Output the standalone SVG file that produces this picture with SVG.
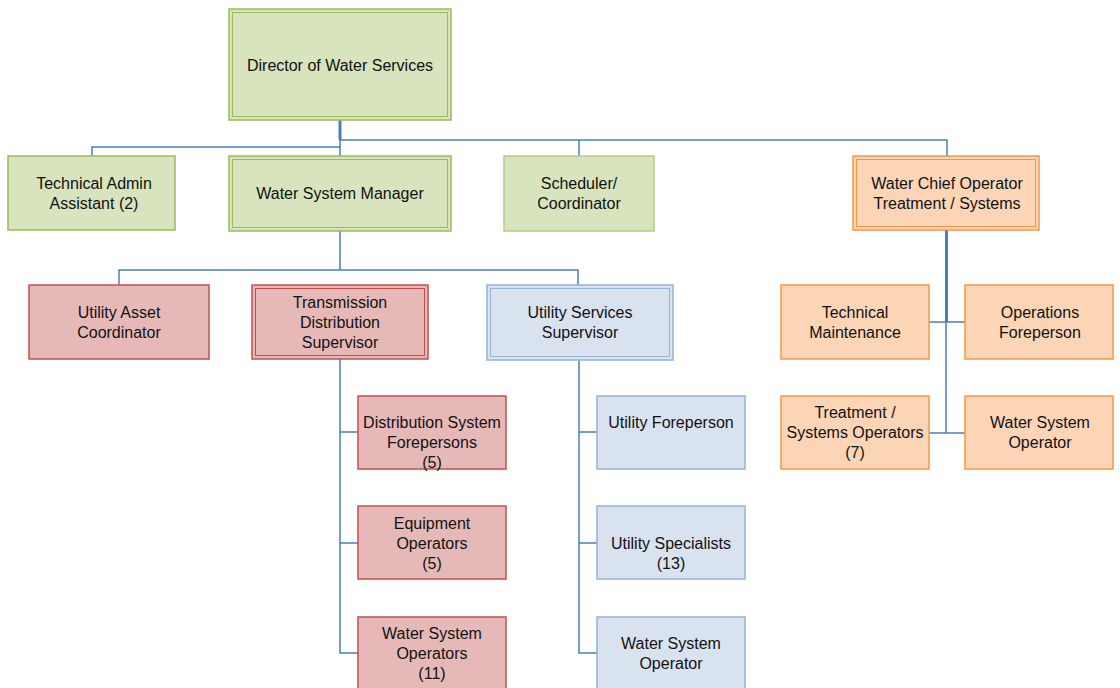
<svg xmlns="http://www.w3.org/2000/svg" width="1120" height="688" viewBox="0 0 1120 688">
  <style>
    .g { fill: #d7e4bd; stroke: #9bbb59; stroke-width: 1.5; }
    .r { fill: #e6b9b8; stroke: #c0504d; stroke-width: 1.5; }
    .b { fill: #d9e2ef; stroke: #95b3d7; stroke-width: 1.5; }
    .o { fill: #fbd5b5; stroke: #f79646; stroke-width: 1.5; }
    .in { fill: none; stroke-width: 1; }
    .gi { stroke: #9bbb59; }
    .ri { stroke: #c0504d; }
    .bi { stroke: #95b3d7; }
    .oi { stroke: #f79646; }
    text { font-family: "Liberation Sans", Arial, sans-serif; font-size: 16px; fill: #111; text-anchor: middle; }
    .conn { fill: none; stroke: #4a7ebb; stroke-width: 1.5; }
    .thick { fill: none; stroke: #4a7ebb; stroke-width: 3; }
  </style>

  <rect width="1120" height="688" fill="#ffffff"/>

  <!-- connectors -->
  <g id="connectors">
    <path class="thick" d="M340 120 V140"/>
    <path class="conn" d="M340 140 H947 V156 M579 140 V156 M340 140 V156 M340 147 H92 V156"/>
    <path class="conn" d="M340 231 V270 M119 285 V270 H578 V285"/>
    <path class="conn" d="M340 359 V653 H358 M340 432 H358 M340 543 H358"/>
    <path class="conn" d="M579 360 V653 H597 M579 432 H597 M579 543 H597"/>
    <path class="thick" d="M946.5 230 V322"/>
    <path class="conn" d="M946 322 V433 M929 322 H965 M929 433 H965"/>
  </g>

  <!-- top level -->
  <g id="director">
    <rect class="g" x="229" y="9" width="222" height="111"/>
    <rect class="in gi" x="232.5" y="12.5" width="215" height="104"/>
    <text x="340" y="71">Director of Water Services</text>
  </g>

  <g id="tech-admin">
    <rect class="g" x="8" y="156" width="167" height="74"/>
    <text x="94" y="189">Technical Admin</text>
    <text x="94" y="209">Assistant (2)</text>
  </g>

  <g id="water-system-manager">
    <rect class="g" x="229" y="156" width="222" height="75"/>
    <rect class="in gi" x="232.5" y="159.5" width="215" height="68"/>
    <text x="340" y="199">Water System Manager</text>
  </g>

  <g id="scheduler">
    <rect class="g" x="504" y="156" width="150" height="75" stroke-width="2.5" style="stroke:#b5cc85"/>
    <text x="579" y="189">Scheduler/</text>
    <text x="579" y="209">Coordinator</text>
  </g>

  <g id="chief-operator">
    <rect class="o" x="853" y="156" width="186" height="74"/>
    <rect class="in oi" x="856.5" y="159.5" width="179" height="67"/>
    <text x="947" y="189">Water Chief Operator</text>
    <text x="947" y="209">Treatment / Systems</text>
  </g>

  <!-- second level -->
  <g id="utility-asset">
    <rect class="r" x="29" y="285" width="180" height="74"/>
    <text x="119" y="318">Utility Asset</text>
    <text x="119" y="338">Coordinator</text>
  </g>

  <g id="transmission-supervisor">
    <rect class="r" x="252" y="285" width="176" height="74"/>
    <rect class="in ri" x="255.5" y="288.5" width="169" height="67"/>
    <text x="340" y="308">Transmission</text>
    <text x="340" y="328">Distribution</text>
    <text x="340" y="348">Supervisor</text>
  </g>

  <g id="utility-services-supervisor">
    <rect class="b" x="487" y="285" width="186" height="75"/>
    <rect class="in bi" x="490.5" y="288.5" width="179" height="68"/>
    <text x="580" y="318">Utility Services</text>
    <text x="580" y="338">Supervisor</text>
  </g>

  <g id="technical-maintenance">
    <rect class="o" x="781" y="285" width="148" height="74"/>
    <text x="855" y="318">Technical</text>
    <text x="855" y="338">Maintenance</text>
  </g>

  <g id="operations-foreperson">
    <rect class="o" x="965" y="285" width="148" height="74"/>
    <text x="1040" y="318">Operations</text>
    <text x="1040" y="338">Foreperson</text>
  </g>

  <g id="treatment-operators">
    <rect class="o" x="781" y="396" width="148" height="73"/>
    <text x="855" y="418">Treatment /</text>
    <text x="855" y="438">Systems Operators</text>
    <text x="855" y="458">(7)</text>
  </g>

  <g id="orange-water-system-operator">
    <rect class="o" x="965" y="396" width="148" height="73"/>
    <text x="1040" y="428">Water System</text>
    <text x="1040" y="448">Operator</text>
  </g>

  <!-- transmission / distribution crews -->
  <g id="distribution-forepersons">
    <rect class="r" x="358" y="396" width="148" height="73"/>
    <text x="432" y="428">Distribution System</text>
    <text x="432" y="448">Forepersons</text>
    <text x="432" y="468">(5)</text>
  </g>

  <g id="equipment-operators">
    <rect class="r" x="358" y="506" width="148" height="73"/>
    <text x="432" y="529">Equipment</text>
    <text x="432" y="549">Operators</text>
    <text x="432" y="569">(5)</text>
  </g>

  <g id="water-system-operators">
    <rect class="r" x="358" y="617" width="148" height="80"/>
    <text x="432" y="639">Water System</text>
    <text x="432" y="659">Operators</text>
    <text x="432" y="679">(11)</text>
  </g>

  <!-- utility services crews -->
  <g id="utility-foreperson">
    <rect class="b" x="597" y="396" width="148" height="73"/>
    <text x="671" y="428">Utility Foreperson</text>
  </g>

  <g id="utility-specialists">
    <rect class="b" x="597" y="506" width="148" height="73"/>
    <text x="671" y="549">Utility Specialists</text>
    <text x="671" y="569">(13)</text>
  </g>

  <g id="blue-water-system-operator">
    <rect class="b" x="597" y="617" width="148" height="80"/>
    <text x="671" y="649">Water System</text>
    <text x="671" y="669">Operator</text>
  </g>
</svg>
